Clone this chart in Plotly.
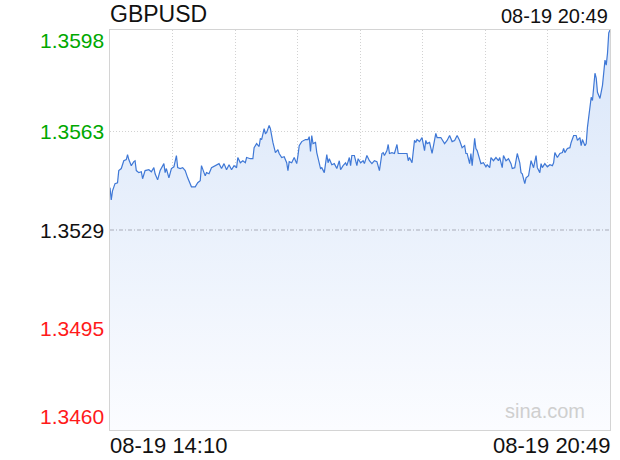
import plotly.graph_objects as go

# minutes after 08-19 14:10, and GBPUSD price
minutes = [
    0, 1, 2, 4, 6, 7, 9, 11, 13, 14,
    15, 17, 19, 20, 21, 23, 25, 26, 28, 31,
    33, 35, 36, 38, 40, 43, 44, 45, 47, 49,
    51, 53, 54, 56, 58, 60, 62, 63, 65, 68,
    70, 72, 73, 75, 76, 77, 79, 81, 84, 87,
    89, 91, 93, 95, 97, 99, 101, 102, 104, 106,
    108, 109, 112, 114, 115, 117, 119, 120, 121, 123,
    124, 125, 127, 128, 130, 132, 134, 135, 137, 139,
    141, 142, 143, 145, 147, 149, 150, 151, 153, 156,
    158, 159, 160, 161, 162, 164, 165, 167, 168, 169,
    171, 173, 174, 175, 177, 179, 181, 183, 184, 186,
    188, 189, 191, 192, 193, 195, 197, 198, 200, 202,
    203, 205, 207, 209, 211, 213, 215, 217, 218, 219,
    221, 222, 223, 225, 227, 229, 230, 232, 237, 238,
    239, 241, 242, 243, 244, 245, 247, 249, 251, 252,
    253, 255, 257, 259, 260, 261, 264, 267, 269, 271,
    273, 275, 277, 279, 280, 281, 283, 284, 285, 287,
    288, 289, 291, 292, 293, 295, 296, 298, 300, 301,
    303, 304, 306, 308, 310, 311, 313, 314, 316, 318,
    320, 321, 323, 325, 327, 328, 329, 331, 332, 334,
    335, 336, 338, 340, 341, 343, 344, 345, 347, 349,
    351, 353, 354, 355, 357, 359, 361, 362, 363, 365,
    367, 368, 370, 372, 373, 375, 376, 377, 379, 380,
    381, 383, 384, 385, 387, 388, 389, 391, 392, 393,
    395, 396, 397, 398, 399,
]
prices = [
    1.35436, 1.35394, 1.35425, 1.35450, 1.35453, 1.35495, 1.35502, 1.35529, 1.35533, 1.35550,
    1.35533, 1.35512, 1.35526, 1.35529, 1.35495, 1.35488, 1.35491, 1.35467, 1.35495, 1.35498,
    1.35491, 1.35505, 1.35484, 1.35463, 1.35495, 1.35519, 1.35488, 1.35502, 1.35470, 1.35502,
    1.35508, 1.35547, 1.35505, 1.35502, 1.35505, 1.35495, 1.35470, 1.35460, 1.35439, 1.35439,
    1.35453, 1.35460, 1.35512, 1.35488, 1.35477, 1.35488, 1.35484, 1.35505, 1.35512, 1.35519,
    1.35502, 1.35519, 1.35498, 1.35515, 1.35498, 1.35512, 1.35505, 1.35540, 1.35522, 1.35529,
    1.35522, 1.35540, 1.35536, 1.35536, 1.35574, 1.35588, 1.35578, 1.35606, 1.35602, 1.35640,
    1.35623, 1.35626, 1.35651, 1.35640, 1.35592, 1.35557, 1.35567, 1.35554, 1.35540, 1.35543,
    1.35522, 1.35495, 1.35526, 1.35522, 1.35540, 1.35519, 1.35547, 1.35581, 1.35595, 1.35602,
    1.35602, 1.35612, 1.35561, 1.35616, 1.35588, 1.35592, 1.35557, 1.35515, 1.35502, 1.35505,
    1.35488, 1.35550, 1.35522, 1.35536, 1.35515, 1.35519, 1.35502, 1.35529, 1.35498, 1.35512,
    1.35522, 1.35512, 1.35540, 1.35512, 1.35547, 1.35547, 1.35512, 1.35536, 1.35522, 1.35529,
    1.35519, 1.35547, 1.35529, 1.35519, 1.35529, 1.35526, 1.35495, 1.35554, 1.35557, 1.35547,
    1.35564, 1.35585, 1.35554, 1.35557, 1.35554, 1.35585, 1.35554, 1.35554, 1.35554, 1.35529,
    1.35540, 1.35522, 1.35564, 1.35599, 1.35592, 1.35602, 1.35595, 1.35609, 1.35564, 1.35599,
    1.35588, 1.35592, 1.35554, 1.35606, 1.35623, 1.35609, 1.35609, 1.35588, 1.35599, 1.35616,
    1.35595, 1.35599, 1.35616, 1.35599, 1.35581, 1.35574, 1.35581, 1.35554, 1.35554, 1.35519,
    1.35554, 1.35512, 1.35606, 1.35571, 1.35564, 1.35529, 1.35519, 1.35522, 1.35508, 1.35515,
    1.35505, 1.35540, 1.35529, 1.35540, 1.35529, 1.35540, 1.35505, 1.35547, 1.35529, 1.35536,
    1.35519, 1.35502, 1.35505, 1.35554, 1.35522, 1.35488, 1.35484, 1.35450, 1.35470, 1.35477,
    1.35505, 1.35529, 1.35505, 1.35547, 1.35505, 1.35488, 1.35519, 1.35505, 1.35519, 1.35508,
    1.35515, 1.35512, 1.35522, 1.35557, 1.35540, 1.35554, 1.35557, 1.35571, 1.35557, 1.35571,
    1.35574, 1.35592, 1.35616, 1.35616, 1.35599, 1.35609, 1.35581, 1.35602, 1.35581, 1.35588,
    1.35644, 1.35703, 1.35748, 1.35737, 1.35831, 1.35814, 1.35765, 1.35744, 1.35762, 1.35789,
    1.35876, 1.35859, 1.35900, 1.35970, 1.35980,
]

y_ticks = [1.3598, 1.3563, 1.3529, 1.3495, 1.3460]
prev_close = 1.3529
symbol = "GBPUSD"
start_label = "08-19 14:10"
end_label = "08-19 20:49"
total_minutes = 399
n_sections = 8

FONT = "Liberation Sans, Arial, sans-serif"
LINE = "#3f78d6"
GRID = "#d2d2d2"
UP, FLAT, DOWN = "#00a800", "#111111", "#ff1a1a"

y_lo, y_hi = min(y_ticks), max(y_ticks)

fig = go.Figure()
fig.add_trace(go.Scatter(
    x=minutes, y=prices,
    mode="lines",
    line=dict(color=LINE, width=1.2),
    fill="tozeroy",
    fillgradient=dict(
        type="vertical",
        colorscale=[[0, "#fbfcff"], [1, "#d9e6f9"]],
        start=y_lo, stop=y_hi,
    ),
    hoverinfo="skip",
    showlegend=False,
))

# previous close reference
fig.add_hline(y=prev_close, line=dict(color="#a9acb8", width=1, dash="4px,2px,1px,2px"))

# y-axis price labels, coloured against previous close
for i, v in enumerate(y_ticks):
    color = UP if v > prev_close else DOWN if v < prev_close else FLAT
    shift = -10 if i == 0 else 14 if i == len(y_ticks) - 1 else 0
    fig.add_annotation(
        x=0, xref="paper", y=v, yref="y",
        text=f"{v:.4f}", showarrow=False,
        xanchor="right", yanchor="middle", xshift=-4, yshift=shift,
        font=dict(family=FONT, size=21, color=color),
    )

fig.add_annotation(x=0, xref="paper", y=1, yref="paper", text=symbol, showarrow=False,
                   xanchor="left", yanchor="bottom", yshift=1, xshift=-2,
                   font=dict(family=FONT, size=23, color="#111"))
fig.add_annotation(x=1, xref="paper", y=1, yref="paper", text=end_label, showarrow=False,
                   xanchor="right", yanchor="bottom", yshift=1,
                   font=dict(family=FONT, size=20, color="#111"))
fig.add_annotation(x=0, xref="paper", y=0, yref="paper", text=start_label, showarrow=False,
                   xanchor="left", yanchor="top", yshift=-1, xshift=-2,
                   font=dict(family=FONT, size=22, color="#111"))
fig.add_annotation(x=1, xref="paper", y=0, yref="paper", text=end_label, showarrow=False,
                   xanchor="right", yanchor="top", yshift=-1, xshift=2,
                   font=dict(family=FONT, size=22, color="#111"))
fig.add_annotation(x=0.954, xref="paper", y=0.047, yref="paper", text="sina.com",
                   showarrow=False, xanchor="right", yanchor="middle",
                   font=dict(family=FONT, size=20, color="#cfcfcf"))

fig.update_xaxes(
    range=[0, total_minutes],
    tickvals=[total_minutes * k / n_sections for k in range(1, n_sections)],
    showticklabels=False, ticks="",
    showgrid=True, gridcolor=GRID, griddash="1px,2px", gridwidth=1,
    showline=True, mirror=True, linecolor="#d4d4d4", linewidth=1,
    zeroline=False, fixedrange=True,
)
fig.update_yaxes(
    range=[y_lo, y_hi],
    tickvals=y_ticks,
    showticklabels=False, ticks="",
    showgrid=True, gridcolor=GRID, griddash="1px,2px", gridwidth=1,
    showline=True, mirror=True, linecolor="#d4d4d4", linewidth=1,
    zeroline=False, fixedrange=True,
)

fig.update_layout(
    width=620, height=460,
    margin=dict(l=110, r=10, t=30, b=30),
    plot_bgcolor="white",
    paper_bgcolor="white",
    font=dict(family=FONT),
    showlegend=False,
)

# drop the default 8px page margin so the figure fills the window
fig.write_html(
    "out.html",
    config={"displayModeBar": False},
    post_script="document.body.style.margin='0';document.body.style.overflow='hidden';",
)
